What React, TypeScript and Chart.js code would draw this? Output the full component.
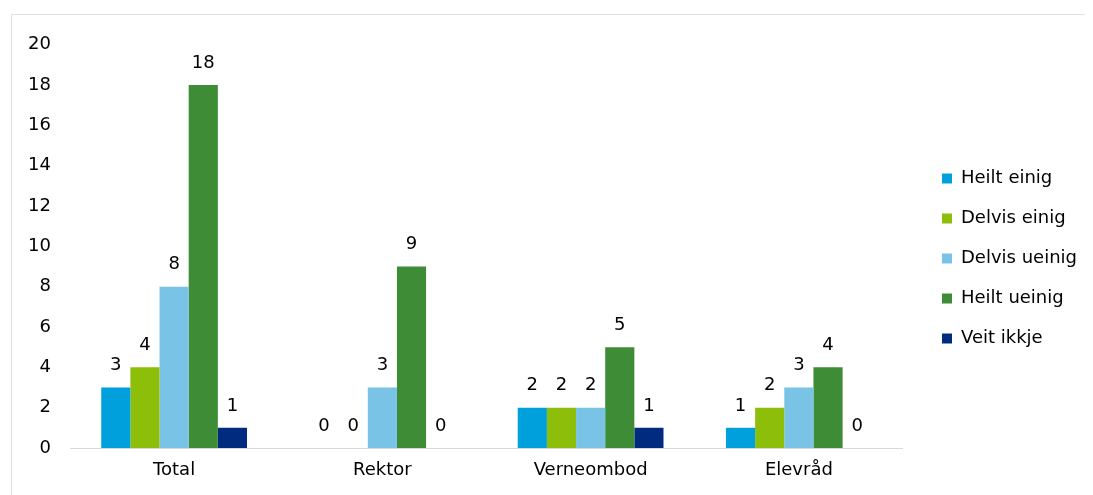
import React, { useEffect, useRef } from "react";
import { Chart, registerables } from "chart.js";

Chart.register(...registerables);

const categories = ["Total", "Rektor", "Verneombod", "Elevråd"];
const seriesNames = ["Heilt einig", "Delvis einig", "Delvis ueinig", "Heilt ueinig", "Veit ikkje"];
const heiltEinig = [3, 0, 2, 1];
const delvisEinig = [4, 0, 2, 2];
const delvisUeinig = [8, 3, 2, 3];
const heiltUeinig = [18, 9, 5, 4];
const veitIkkje = [1, 0, 1, 0];
const seriesColors = ["#00A0DC", "#8CBE0A", "#78C3E6", "#3E8C36", "#002B7F"];
const yTicks = [0, 2, 4, 6, 8, 10, 12, 14, 16, 18, 20];

const FONT = "'DejaVu Sans', 'Liberation Sans', Arial, sans-serif";

const valueLabels = {
  id: "valueLabels",
  afterDatasetsDraw(chart: any) {
    const ctx = chart.ctx;
    ctx.save();
    ctx.font = `18px ${FONT}`;
    ctx.fillStyle = "#000";
    ctx.textAlign = "center";
    ctx.textBaseline = "middle";
    chart.data.datasets.forEach((ds: any, i: number) => {
      const meta = chart.getDatasetMeta(i);
      meta.data.forEach((bar: any, j: number) => {
        ctx.fillText(String(ds.data[j]), bar.x, bar.y - 22);
      });
    });
    ctx.restore();
  },
};

export default function App() {
  const ref = useRef<HTMLCanvasElement>(null);
  useEffect(() => {
    if (!ref.current) return;
    const all = [heiltEinig, delvisEinig, delvisUeinig, heiltUeinig, veitIkkje];
    const chart = new Chart(ref.current, {
      type: "bar",
      data: {
        labels: categories,
        datasets: all.map((d, i) => ({
          label: seriesNames[i],
          data: d,
          backgroundColor: seriesColors[i],
          borderWidth: 0,
          categoryPercentage: 0.7,
          barPercentage: 1,
        })),
      },
      options: {
        animation: false,
        responsive: false,
        maintainAspectRatio: false,
        layout: { padding: { top: 27, bottom: 20, left: 0, right: 6 } },
        plugins: {
          title: { display: false },
          tooltip: { enabled: false },
          legend: {
            position: "right",
            align: "center",
            labels: {
              boxWidth: 10,
              boxHeight: 10,
              padding: 22,
              color: "#000",
              font: { family: FONT, size: 18 },
            },
          },
        },
        scales: {
          x: {
            grid: { display: false, drawTicks: false },
            border: { display: true, color: "#d9d9d9", width: 1 },
            ticks: { color: "#000", font: { family: FONT, size: 18 }, padding: 12 },
            afterFit: (s: any) => { s.height = 27; },
          },
          y: {
            min: 0,
            max: 20,
            afterBuildTicks: (s: any) => { s.ticks = yTicks.map((v) => ({ value: v })); },
            grid: { display: false, drawTicks: false },
            border: { display: false },
            ticks: { color: "#000", font: { family: FONT, size: 18 }, padding: 19 },
            afterFit: (s: any) => { s.width = 58; },
          },
          yRight: {
            position: "right",
            display: true,
            grid: { display: false, drawTicks: false },
            border: { display: false },
            ticks: { display: false },
            afterFit: (s: any) => { s.width = 17; },
          },
        },
      },
      plugins: [valueLabels],
    });
    return () => chart.destroy();
  }, []);
  return (
    <div
      style={{
        marginLeft: 3,
        marginTop: 6,
        width: 1082,
        height: 481,
        borderLeft: "1px solid #e0e0e0",
        borderTop: "1px solid #e0e0e0",
        boxSizing: "border-box",
      }}
    >
      <canvas ref={ref} width={1081} height={480} style={{ display: "block" }} />
    </div>
  );
}
